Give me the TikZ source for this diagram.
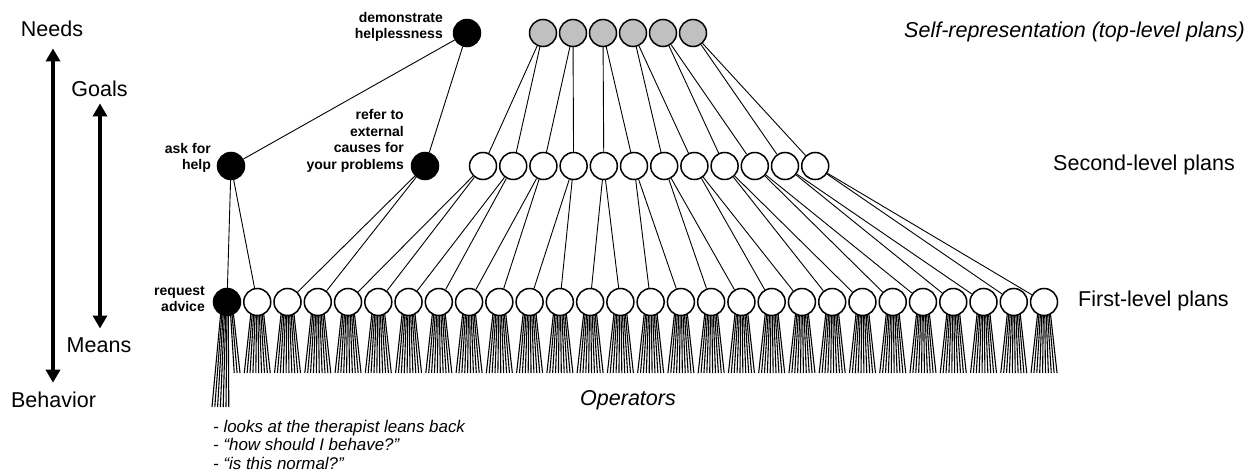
\documentclass[tikz,border=0pt]{standalone}
\usepackage{fontspec}
\setmainfont{Liberation Sans}
\usetikzlibrary{arrows.meta,backgrounds,calc}
\definecolor{topgray}{HTML}{C0C0C0}
\begin{document}
\begin{tikzpicture}[x=1pt,y=-1pt,
  plan/.style={circle,draw,line width=1.5pt,minimum size=27pt,inner sep=0pt,fill=white},
  blackplan/.style={plan,fill=black},
  topplan/.style={plan,fill=topgray},
  link/.style={line width=0.9pt},
  fanline/.style={line width=1.1pt},
  biglabel/.style={font=\fontsize{21.5}{26}\selectfont,inner sep=0pt},
  bigital/.style={font=\fontsize{21.5}{26}\selectfont\itshape,inner sep=0pt},
  planlabel/.style={font=\fontsize{14}{16.5}\selectfont\bfseries,inner sep=0pt,align=right,anchor=east},
  axis/.style={line width=3.5pt,{Triangle[width=14pt,length=13pt]}-{Triangle[width=14pt,length=13pt]}}
]
\useasboundingbox (0,0) rectangle (1252,473);

% left scale
\node[biglabel,anchor=base] (needs) at (52,37) {Needs};
\node[biglabel,anchor=base] (behav) at (53.5,407) {Behavior};
\node[biglabel,anchor=base] (goals) at (99.5,97) {Goals};
\node[biglabel,anchor=base] (means) at (99,352) {Means};
\draw[axis,shorten <=11pt,shorten >=8.5pt] ([xshift=1pt]needs.south) -- ([xshift=-0.5pt]behav.north);
\draw[axis,shorten <=6pt,shorten >=8.5pt] ([xshift=0.5pt]goals.south) -- ([xshift=1pt]means.north);

% black plan nodes
\node[blackplan] (dh) at (467,33) {};
\node[blackplan] (ah) at (231,166) {};
\node[blackplan] (re) at (425,166) {};
\node[planlabel] at (443,27) {demonstrate\\helplessness};
\node[planlabel] at (211,158) {ask for\\help};
\node[planlabel] at (404,141) {refer to\\external\\causes for\\your problems};
\node[planlabel] at (205,299) {request\\advice};

% top-level
\foreach \j in {1,...,6} \node[topplan] (g\j) at ({543+30*(\j-1)},33) {};
% second-level
\foreach \m in {1,...,12} \node[plan] (s\m) at ({483+30.2*(\m-1)},166) {};
% first-level
\node[blackplan] (f0) at (227,302) {};
\foreach \i in {1,...,27} \node[plan] (f\i) at ({227+30.26*\i},302) {};

% connectors
\draw[link] (dh) -- (ah);
\draw[link] (dh) -- (re);
\draw[link] (ah) -- (f0);
\draw[link] (ah) -- (f1);
\draw[link] (re) -- (f2);
\draw[link] (re) -- (f3);
\foreach \j [evaluate=\j as \a using int(2*\j-1), evaluate=\j as \b using int(2*\j)] in {1,...,6} {
  \draw[link] (g\j) -- (s\a);
  \draw[link] (g\j) -- (s\b);
}
\foreach \m [evaluate=\m as \a using int(2*\m+2), evaluate=\m as \b using int(2*\m+3)] in {1,...,12} {
  \draw[link] (s\m) -- (f\a);
  \draw[link] (s\m) -- (f\b);
}

% operator fans
\begin{pgfonlayer}{background}
\fill[white] (0,0) rectangle (1252,473);
\foreach \i in {1,...,27} {
  \foreach \k in {0,...,9} {
    \draw[fanline] ($(f\i.center)+({-6+\k*12/9},8)$) -- ($(f\i.center)+({-13+\k*26/9},71)$);
  }
}
\foreach \k in {0,...,6} {
  \draw[fanline] ($(f0.center)+({-6+\k*1.2},8)$) -- ($(f0.center)+({-15+\k*2.8},105)$);
}
\foreach \k in {7,...,9} {
  \draw[fanline] ($(f0.center)+({-6+\k*12/9},8)$) -- ($(f0.center)+({-13+\k*26/9},71)$);
}
\end{pgfonlayer}

% right labels
\node[bigital,anchor=base east] (selfrep) at (1245,38) {Self-representation (top-level plans)};
\node[biglabel,anchor=base west] (second) at (1053,171) {Second-level plans};
\node[biglabel,anchor=base west] (first) at (1078,306) {First-level plans};
\node[bigital,anchor=base] (ops) at (628,405) {Operators};

% example behaviours
\node[font=\fontsize{16.9}{18.4}\selectfont\itshape,inner sep=0pt,align=left,anchor=north west] (examples) at (213,420)
  {- looks at the therapist leans back\\- “how should I behave?”\\- “is this normal?”};
\end{tikzpicture}
\end{document}
